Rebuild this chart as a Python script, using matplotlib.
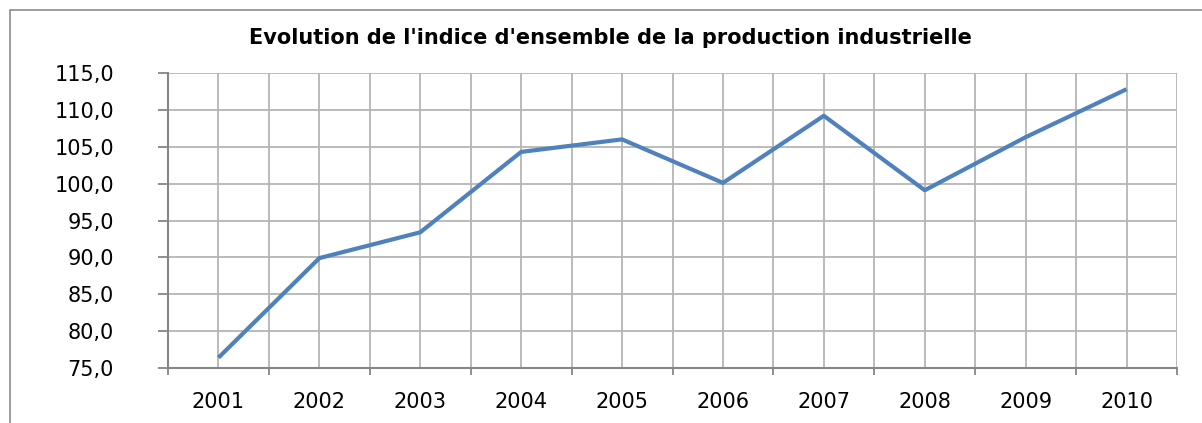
import numpy as np
import matplotlib.pyplot as plt
from matplotlib.patches import Rectangle
from matplotlib.ticker import FixedLocator, FuncFormatter

# data
years = ['2001', '2002', '2003', '2004', '2005', '2006', '2007', '2008', '2009', '2010']
indice = [76.4, 89.9, 93.4, 104.3, 106.0, 100.1, 109.2, 99.1, 106.3, 112.8]
y_ticks = [75, 80, 85, 90, 95, 100, 105, 110, 115]

title = "Evolution de l'indice d'ensemble de la production industrielle"

line_color = '#4F81BD'
grid_color = '#B5B5B5'
axis_color = '#868686'

W, H = 1202, 423
fig = plt.figure(figsize=(W / 100, H / 100), dpi=100)
fig.patch.set_facecolor('white')

# outer chart border (cropped at right and bottom in the reference)
fig.add_artist(Rectangle((10 / W, -0.1), 1.2, 1 - 10 / H + 0.1,
                         transform=fig.transFigure, fill=False,
                         edgecolor='#8C8C8C', linewidth=1.2))

ax = fig.add_axes([168 / W, 1 - 368 / H, (1177 - 168) / W, (368 - 73) / H])

x = np.arange(len(years))
ax.plot(x, indice, color=line_color, linewidth=3.0, solid_capstyle='butt', zorder=3)

ax.set_xlim(-0.5, len(years) - 0.5)
ax.set_ylim(75, 115)

# horizontal grid
ax.set_yticks(y_ticks)
ax.yaxis.set_major_formatter(FuncFormatter(lambda v, p: f'{v:.1f}'.replace('.', ',')))
ax.grid(axis='y', color=grid_color, linewidth=1.3, zorder=1)

# vertical grid at category centers and boundaries
for xv in np.arange(-0.5, len(years), 0.5):
    ax.axvline(xv, color=grid_color, linewidth=1.3, zorder=1)

# x ticks at boundaries, labels at centers
ax.set_xticks(x)
ax.set_xticklabels(years)
ax.xaxis.set_minor_locator(FixedLocator(np.arange(-0.5, len(years), 1.0)))
ax.tick_params(axis='x', which='major', length=0, pad=17, labelsize=15)
ax.tick_params(axis='x', which='minor', length=5, width=1.3, color=axis_color, direction='out')
ax.tick_params(axis='y', length=7, width=1.3, color=axis_color, pad=32, labelsize=15)

for side in ['top', 'right']:
    ax.spines[side].set_visible(False)
for side in ['left', 'bottom']:
    ax.spines[side].set_color(axis_color)
    ax.spines[side].set_linewidth(1.5)
    ax.spines[side].set_zorder(2)

fig.text(610 / W, 1 - 38 / H, title, ha='center', va='center',
         fontsize=15, fontweight='bold', color='black')

fig.savefig('out.png', dpi=100)
